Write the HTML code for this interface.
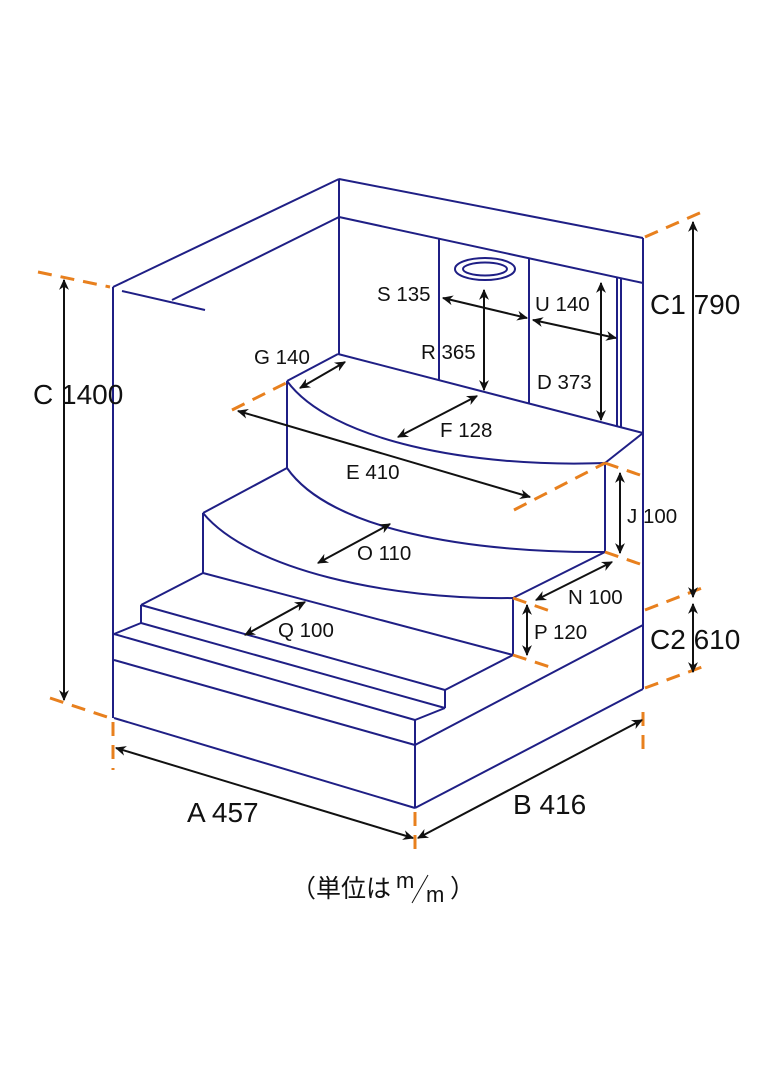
<!DOCTYPE html>
<html><head><meta charset="utf-8"><style>
html,body{margin:0;padding:0;background:#fff;}
svg{display:block;}
text{font-family:"Liberation Sans","Noto Sans CJK JP",sans-serif;fill:#111;}
</style></head><body>
<svg width="780" height="1080" viewBox="0 0 780 1080" xmlns="http://www.w3.org/2000/svg">
<defs>
<marker id="ah" viewBox="0 0 10 10" refX="9" refY="5" markerWidth="13" markerHeight="11" orient="auto-start-reverse" markerUnits="userSpaceOnUse">
<path d="M0,0.5 L10,5 L0,9.5 L3,5 z" fill="#111"/></marker>
</defs>
<g stroke="#1f1f85" stroke-width="2" fill="none" stroke-linejoin="round">
<line x1="113" y1="287" x2="113" y2="718"/>
<line x1="113" y1="287" x2="339" y2="179"/>
<line x1="339" y1="179" x2="643" y2="238"/>
<line x1="643" y1="238" x2="643" y2="689"/>
<line x1="339" y1="179" x2="339" y2="355"/>
<line x1="339" y1="217" x2="643" y2="283"/>
<line x1="122" y1="291" x2="205" y2="310"/>
<line x1="172" y1="300" x2="339" y2="217"/>
<line x1="439" y1="239" x2="439" y2="380"/>
<line x1="529" y1="259" x2="529" y2="403"/>
<line x1="617" y1="278" x2="617" y2="426"/>
<line x1="621" y1="279" x2="621" y2="428"/>
<ellipse cx="485" cy="269" rx="30" ry="11"/>
<ellipse cx="485" cy="269" rx="22" ry="6.5"/>
<line x1="338" y1="354" x2="643" y2="433"/>
<line x1="338" y1="354" x2="287" y2="381"/>
<path d="M287,381 C330,440 470,468 605,463"/>
<line x1="605" y1="463" x2="643" y2="433"/>
<line x1="287" y1="381" x2="287" y2="468"/>
<line x1="605" y1="463" x2="605" y2="552"/>
<path d="M287,468 C330,530 470,553 605,552"/>
<line x1="287" y1="468" x2="203" y2="513"/>
<line x1="203" y1="513" x2="203" y2="573"/>
<path d="M203,513 C250,570 390,600 513,598"/>
<line x1="513" y1="598" x2="605" y2="552"/>
<line x1="513" y1="598" x2="513" y2="655"/>
<line x1="203" y1="573" x2="513" y2="655"/>
<line x1="445" y1="690" x2="513" y2="655"/>
<line x1="203" y1="573" x2="141" y2="605"/>
<line x1="141" y1="605" x2="445" y2="690"/>
<line x1="141" y1="605" x2="141" y2="623"/>
<line x1="141" y1="623" x2="445" y2="708"/>
<line x1="445" y1="690" x2="445" y2="708"/>
<line x1="141" y1="623" x2="114" y2="634"/>
<line x1="114" y1="634" x2="415" y2="720"/>
<line x1="415" y1="720" x2="445" y2="708"/>
<line x1="114" y1="660" x2="415" y2="745"/>
<line x1="114" y1="718" x2="415" y2="808"/>
<line x1="415" y1="720" x2="415" y2="808"/>
<line x1="415" y1="745" x2="643" y2="625"/>
<line x1="415" y1="808" x2="643" y2="689"/>
</g>
<g stroke="#e8801e" stroke-width="3" fill="none" stroke-dasharray="14,9">
<line x1="38" y1="272" x2="110" y2="287"/>
<line x1="50" y1="698" x2="110" y2="718"/>
<line x1="645" y1="237" x2="702" y2="212"/>
<line x1="645" y1="610" x2="702" y2="588"/>
<line x1="645" y1="688" x2="702" y2="667"/>
<line x1="113" y1="722" x2="113" y2="770"/>
<line x1="415" y1="812" x2="415" y2="852"/>
<line x1="643" y1="712" x2="643" y2="750"/>
<line x1="232" y1="410" x2="290" y2="381"/>
<line x1="514" y1="510" x2="605" y2="463"/>
<line x1="605" y1="463" x2="640" y2="475"/>
<line x1="605" y1="552" x2="640" y2="564"/>
<line x1="513" y1="598" x2="550" y2="611"/>
<line x1="513" y1="655" x2="550" y2="667"/>
</g>
<g stroke="#111" stroke-width="2" fill="none" marker-start="url(#ah)" marker-end="url(#ah)">
<line x1="64" y1="280" x2="64" y2="700"/>
<line x1="693" y1="222" x2="693" y2="597"/>
<line x1="693" y1="604" x2="693" y2="672"/>
<line x1="116" y1="748" x2="413" y2="838"/>
<line x1="418" y1="838" x2="642" y2="720"/>
<line x1="443" y1="298" x2="527" y2="318"/>
<line x1="484" y1="290" x2="484" y2="390"/>
<line x1="533" y1="320" x2="616" y2="338"/>
<line x1="601" y1="283" x2="601" y2="420"/>
<line x1="300" y1="388" x2="345" y2="362"/>
<line x1="398" y1="437" x2="477" y2="396"/>
<line x1="238" y1="411" x2="530" y2="497"/>
<line x1="620" y1="473" x2="620" y2="553"/>
<line x1="318" y1="563" x2="390" y2="524"/>
<line x1="536" y1="600" x2="612" y2="562"/>
<line x1="527" y1="605" x2="527" y2="655"/>
<line x1="245" y1="635" x2="305" y2="602"/>
</g>
<g font-size="28">
<text x="33" y="404">C 1400</text>
<text x="650" y="314">C1 790</text>
<text x="650" y="649">C2 610</text>
<text x="187" y="822">A 457</text>
<text x="513" y="814">B 416</text>
</g>
<g font-size="20.5">
<text x="377" y="301">S 135</text>
<text x="421" y="359">R 365</text>
<text x="535" y="311">U 140</text>
<text x="537" y="389">D 373</text>
<text x="254" y="364">G 140</text>
<text x="440" y="437">F 128</text>
<text x="346" y="479">E 410</text>
<text x="627" y="523">J 100</text>
<text x="357" y="560">O 110</text>
<text x="568" y="604">N 100</text>
<text x="534" y="639">P 120</text>
<text x="278" y="637">Q 100</text>
</g>
<text x="291" y="897" font-size="25">（単位は</text>
<text x="396" y="888" font-size="22">m</text>
<line x1="412" y1="903" x2="428" y2="875" stroke="#111" stroke-width="1"/>
<text x="426" y="902" font-size="22">m</text>
<text x="450" y="897" font-size="25">）</text>
</svg>
</body></html>
